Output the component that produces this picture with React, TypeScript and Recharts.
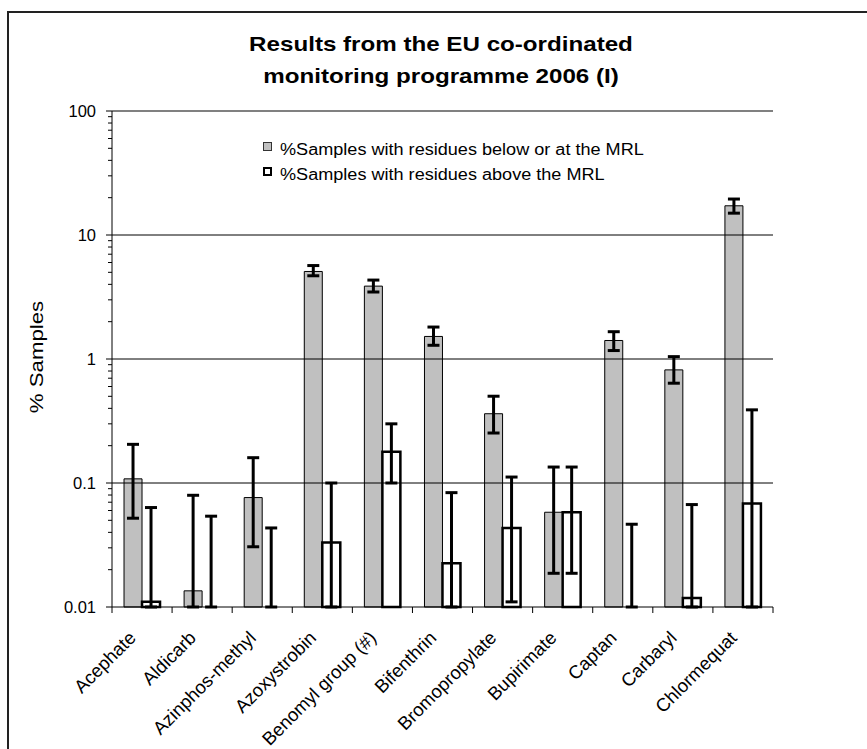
import { Bar, BarChart, ErrorBar, Legend, Rectangle, ReferenceLine, XAxis, YAxis } from "recharts";

const CATEGORIES = [
  "Acephate",
  "Aldicarb",
  "Azinphos-methyl",
  "Azoxystrobin",
  "Benomyl group (#)",
  "Bifenthrin",
  "Bromopropylate",
  "Bupirimate",
  "Captan",
  "Carbaryl",
  "Chlormequat",
];

// % samples with residues below or at the MRL (grey bars) + error bar ends
const BELOW_MRL = [0.108, 0.0135, 0.0763, 5.08, 3.87, 1.52, 0.362, 0.0581, 1.41, 0.817, 17.2];
const BELOW_LOW = [0.052, 0.01, 0.0306, 4.69, 3.47, 1.29, 0.253, 0.0187, 1.17, 0.638, 15.0];
const BELOW_HIGH = [0.205, 0.0796, 0.16, 5.67, 4.33, 1.81, 0.501, 0.1345, 1.66, 1.045, 19.5];

// % samples with residues above the MRL (white bars) + error bar ends
const ABOVE_MRL = [0.011, 0, 0, 0.0331, 0.179, 0.0225, 0.0434, 0.0581, 0, 0.0118, 0.0683];
const ABOVE_LOW = [0.01, 0.01, 0.01, 0.01, 0.1, 0.01, 0.011, 0.0187, 0.01, 0.01, 0.01];
const ABOVE_HIGH = [0.0634, 0.054, 0.0434, 0.1, 0.3, 0.0836, 0.1117, 0.1345, 0.0465, 0.067, 0.389];

const MAJOR_TICKS = [0.01, 0.1, 1, 10, 100];
const MAJOR_LABELS = ["0.01", "0.1", "1", "10", "100"];
const MINOR_STEPS = [2, 3, 4, 5, 6, 7, 8, 9];
const GRID_VALUES = [0.1, 1, 10];

const LEGEND_LABELS = [
  "%Samples with residues below or at the MRL",
  "%Samples with residues above the MRL",
];

const Y_MIN = 0.01;
const Y_MAX = 100;
// zero values sit a hair above the log axis floor so their error bars still draw
const FLOOR = Y_MIN * 1.002;

const W = 867;
const H = 749;
const PLOT_LEFT = 112;
const PLOT_RIGHT = 773;
const PLOT_TOP = 111;
const PLOT_BOTTOM = 607;
const PLOT_W = PLOT_RIGHT - PLOT_LEFT;

const FONT = "'Liberation Sans', Arial, sans-serif";
const GREY = "#c0c0c0";

const Y_TICKS = [
  ...MAJOR_TICKS.slice(0, -1).flatMap((m) => [m, ...MINOR_STEPS.map((s) => +(m * s).toPrecision(3))]),
  Y_MAX,
];

const data = CATEGORIES.map((name, i) => {
  const below = Math.max(BELOW_MRL[i], FLOOR);
  const above = Math.max(ABOVE_MRL[i], FLOOR);
  return {
    name,
    below,
    belowRaw: BELOW_MRL[i],
    belowErr: [below - BELOW_LOW[i], BELOW_HIGH[i] - below],
    above,
    aboveRaw: ABOVE_MRL[i],
    aboveErr: [above - ABOVE_LOW[i], ABOVE_HIGH[i] - above],
  };
});

const barShape = (rawKey: string) => (props: any) =>
  props.payload && props.payload[rawKey] > 0 ? <Rectangle {...props} /> : <g />;

function YTick(props: any) {
  const { x, y, payload } = props;
  const idx = MAJOR_TICKS.indexOf(payload.value);
  const major = idx >= 0;
  return (
    <g>
      <line x1={x - (major ? 6 : 4)} x2={x} y1={y} y2={y} stroke="#000" strokeWidth={1} />
      {major && (
        <text
          x={x - 16}
          y={y}
          dy="0.36em"
          textAnchor="end"
          fontSize={16.5}
          fontFamily={FONT}
          fill="#000"
        >
          {MAJOR_LABELS[idx]}
        </text>
      )}
    </g>
  );
}

function XTick(props: any) {
  const { x, y, payload, index } = props;
  const half = PLOT_W / CATEGORIES.length / 2;
  const ax = x - 5;
  const ay = y + 32;
  return (
    <g>
      <line x1={x - half} x2={x - half} y1={y} y2={y + 6} stroke="#000" />
      {index === CATEGORIES.length - 1 && (
        <line x1={x + half} x2={x + half} y1={y} y2={y + 6} stroke="#000" />
      )}
      <text
        x={ax}
        y={ay}
        transform={`rotate(-45 ${ax} ${ay})`}
        textAnchor="end"
        fontSize={18.5}
        fontFamily={FONT}
        fill="#000"
      >
        {payload.value}
      </text>
    </g>
  );
}

function LegendBox() {
  const rows = [
    { label: LEGEND_LABELS[0], fill: GREY, border: "1px solid #333" },
    { label: LEGEND_LABELS[1], fill: "#fff", border: "2px solid #000" },
  ];
  return (
    <div style={{ fontFamily: FONT, fontSize: 16, color: "#000" }}>
      {rows.map((r) => (
        <div key={r.label} style={{ position: "relative", height: 25, whiteSpace: "nowrap" }}>
          <span
            style={{
              position: "absolute",
              left: 0,
              top: 2,
              width: 9,
              height: 9,
              boxSizing: "border-box",
              background: r.fill,
              border: r.border,
            }}
          />
          <span
            style={{
              position: "absolute",
              left: 17,
              top: 0,
              lineHeight: "20px",
              transform: "scaleX(1.13)",
              transformOrigin: "left center",
            }}
          >
            {r.label}
          </span>
        </div>
      ))}
    </div>
  );
}

export default function App() {
  return (
    <div
      style={{
        position: "absolute",
        left: 0,
        top: 0,
        width: W,
        height: H,
        overflow: "hidden",
        background: "#fff",
        fontFamily: FONT,
      }}
    >
      <div
        style={{
          position: "absolute",
          left: 7,
          top: 11,
          width: W + 20,
          height: H + 20,
          borderLeft: "2px solid #222",
          borderTop: "2px solid #222",
        }}
      />
      <div
        style={{
          position: "absolute",
          left: 0,
          top: 28,
          width: 882,
          textAlign: "center",
          fontSize: 21,
          fontWeight: "bold",
          lineHeight: "31.7px",
          transform: "scaleX(1.15)",
          transformOrigin: "441px 0",
        }}
      >
        Results from the EU co-ordinated
        <br />
        monitoring programme 2006 (I)
      </div>
      <div
        style={{
          position: "absolute",
          left: 37,
          top: 357,
          fontSize: 19,
          whiteSpace: "nowrap",
          transform: "translate(-50%, -50%) rotate(-90deg) scaleX(1.17)",
        }}
      >
        % Samples
      </div>
      <BarChart
        width={W}
        height={H}
        data={data}
        margin={{ top: PLOT_TOP, right: W - PLOT_RIGHT, bottom: H - PLOT_BOTTOM - 100, left: PLOT_LEFT - 60 }}
        barCategoryGap="20%"
        barGap={0}
        style={{ position: "absolute", left: 0, top: 0 }}
      >
        <XAxis
          dataKey="name"
          height={100}
          interval={0}
          tickLine={false}
          tickSize={0}
          tickMargin={0}
          axisLine={{ stroke: "#000", strokeWidth: 1 }}
          tick={<XTick />}
        />
        <YAxis
          type="number"
          scale="log"
          domain={[Y_MIN, Y_MAX]}
          ticks={Y_TICKS}
          interval={0}
          width={60}
          tickLine={false}
          tickSize={0}
          tickMargin={0}
          axisLine={{ stroke: "#000", strokeWidth: 1 }}
          tick={<YTick />}
        />
        <YAxis
          yAxisId="frame"
          orientation="right"
          width={0}
          tick={false}
          tickLine={false}
          axisLine={{ stroke: "#808080", strokeWidth: 2 }}
        />
        {GRID_VALUES.map((v) => (
          <ReferenceLine key={v} y={v} stroke="#000" strokeWidth={1} />
        ))}
        <ReferenceLine y={Y_MAX} stroke="#808080" strokeWidth={2} />
        <Legend
          layout="horizontal"
          verticalAlign="middle"
          align="center"
          content={<LegendBox />}
          wrapperStyle={{ position: "absolute", left: 263, top: 140, width: 420, height: 50 }}
        />
        <Bar
          dataKey="below"
          name={LEGEND_LABELS[0]}
          fill={GREY}
          stroke="#000"
          strokeWidth={1}
          shape={barShape("belowRaw")}
          isAnimationActive={false}
        >
          <ErrorBar dataKey="belowErr" direction="y" width={6} stroke="#000" strokeWidth={3} />
        </Bar>
        <Bar
          dataKey="above"
          name={LEGEND_LABELS[1]}
          fill="#fff"
          stroke="#000"
          strokeWidth={2.5}
          shape={barShape("aboveRaw")}
          isAnimationActive={false}
        >
          <ErrorBar dataKey="aboveErr" direction="y" width={6} stroke="#000" strokeWidth={3} />
        </Bar>
      </BarChart>
    </div>
  );
}
